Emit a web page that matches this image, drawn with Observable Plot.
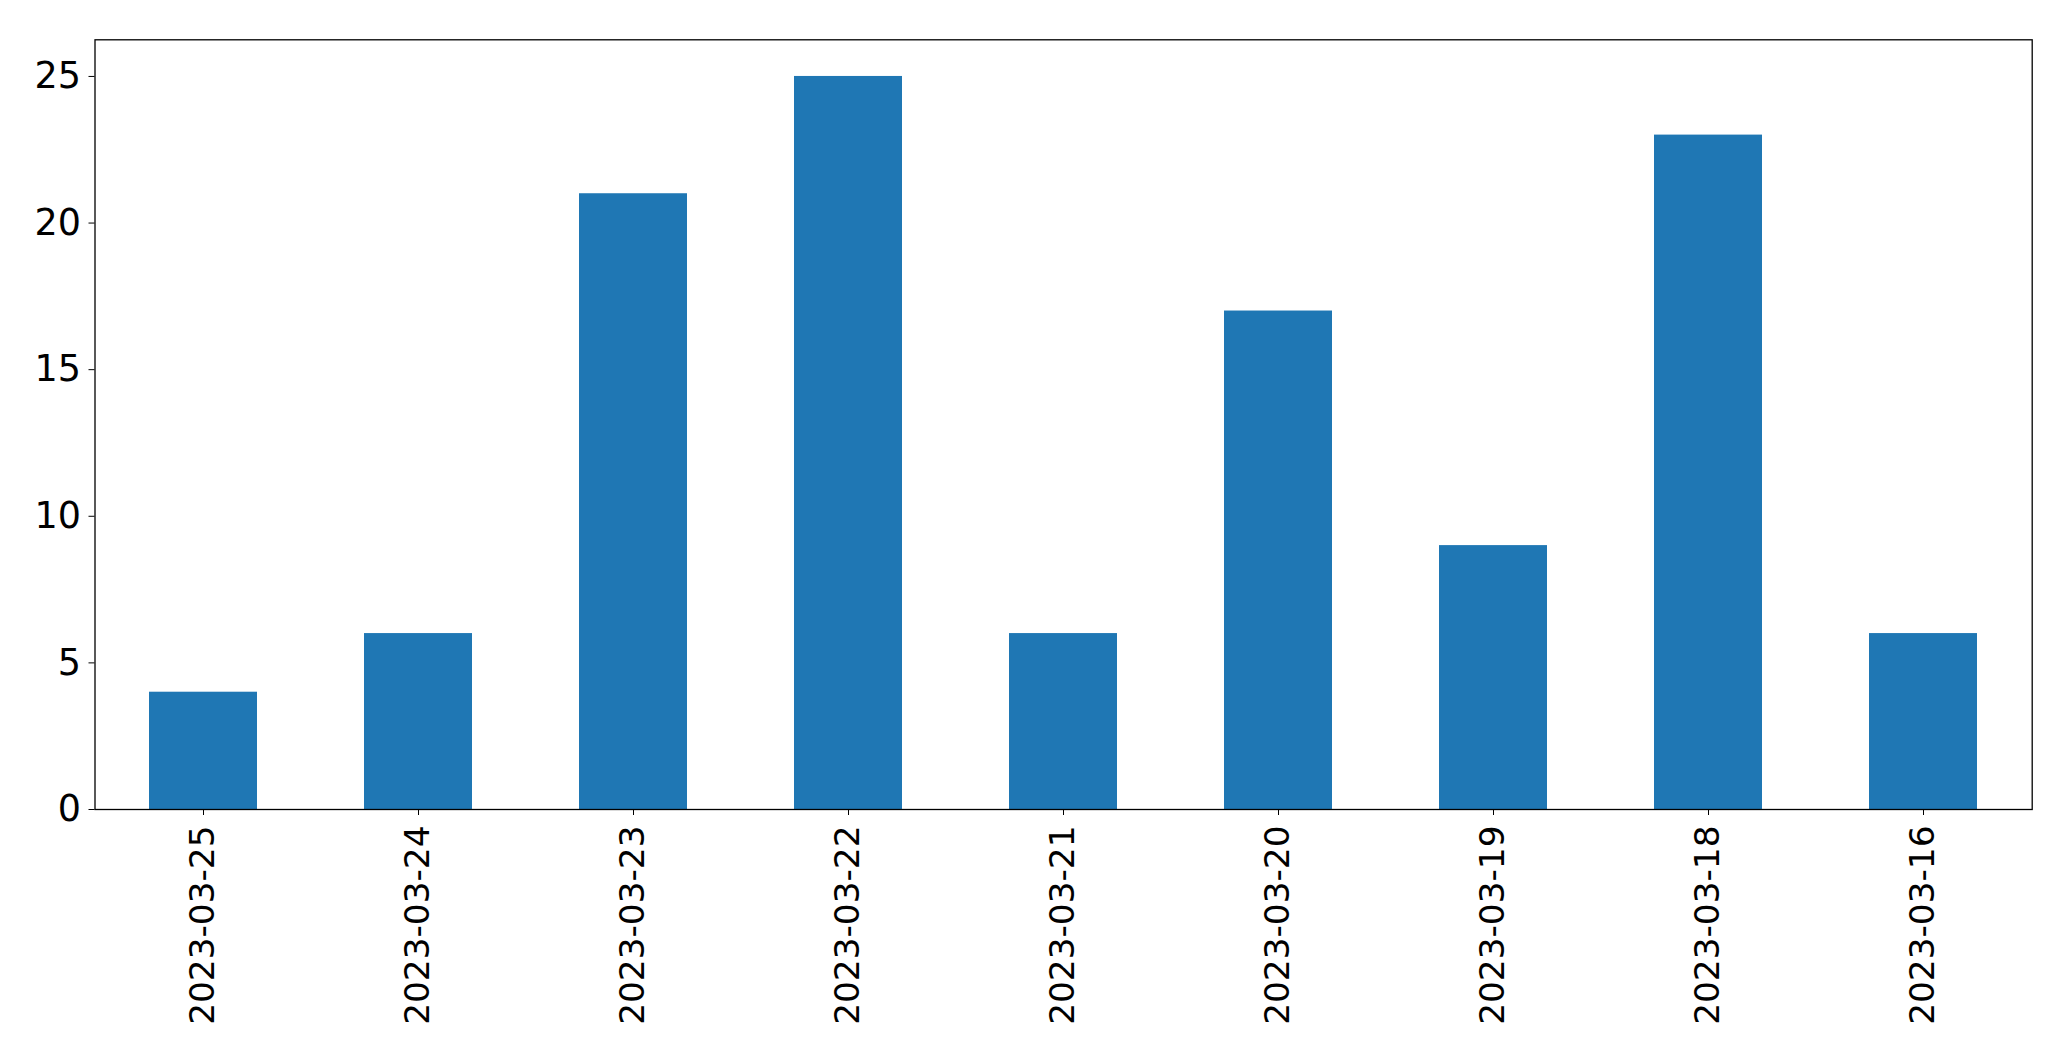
<!DOCTYPE html>
<html>
<head>
<meta charset="utf-8">
<script src="https://cdn.jsdelivr.net/npm/d3@7"></script>
<script src="https://cdn.jsdelivr.net/npm/@observablehq/plot@0.6"></script>
<style>
  html, body { margin: 0; padding: 0; background: #fff; }
  svg { display: block; }
</style>
</head>
<body>
<div id="chart"></div>
<script>
const dates = ["2023-03-25","2023-03-24","2023-03-23","2023-03-22","2023-03-21","2023-03-20","2023-03-19","2023-03-18","2023-03-16"];
const counts = [4, 6, 21, 25, 6, 17, 9, 23, 6];
const yTicks = [0, 5, 10, 15, 20, 25];

const data = dates.map((d, i) => ({date: d, count: counts[i]}));

const chart = Plot.plot({
  width: 2071,
  height: 1061,
  marginLeft: 94.5,
  marginRight: 39.3,
  marginTop: 39.3,
  marginBottom: 252,
  style: {fontSize: "35px", fontFamily: "DejaVu Sans", color: "#000", background: "#fff", overflow: "visible"},
  x: {domain: dates, paddingInner: 0.5, paddingOuter: 0.25, label: null},
  y: {domain: [0, 26.25], label: null},
  marks: [
    Plot.barY(data, {x: "date", y: "count", fill: "#1f77b4"}),
    Plot.axisY({ticks: yTicks, tickSize: 6, tickPadding: 8, fontSize: 36.5, tickFormat: d => String(d), label: null}),
    Plot.axisX({tickSize: 6, tickPadding: 10, tickRotate: -90, fontSize: 34.3, label: null}),
    Plot.frame({stroke: "#000", strokeWidth: 1.3})
  ]
});
document.getElementById("chart").appendChild(chart);
</script>
</body>
</html>
